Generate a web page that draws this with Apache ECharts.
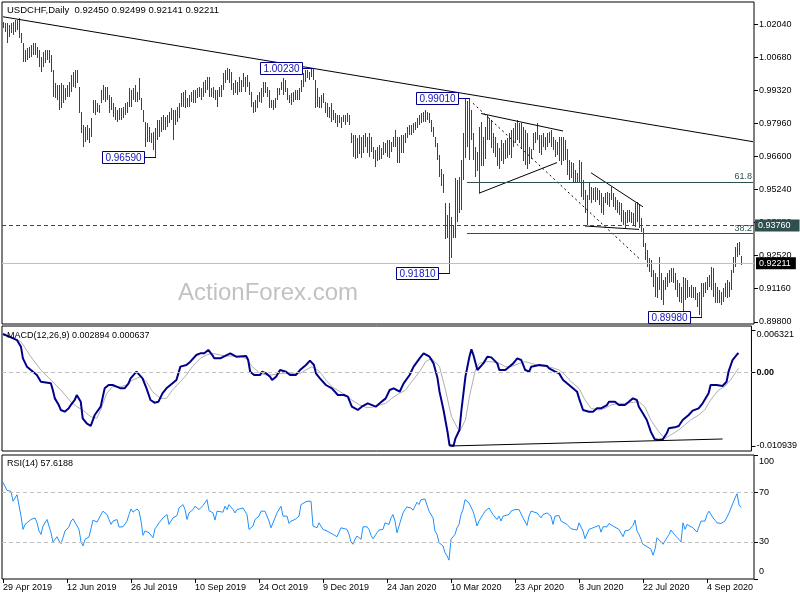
<!DOCTYPE html>
<html><head><meta charset="utf-8">
<script src="https://cdn.jsdelivr.net/npm/echarts@6/dist/echarts.min.js"></script>
<style>html,body{margin:0;padding:0;background:#fff}#c{width:800px;height:600px}</style>
</head><body><div id="c"></div>
<script>
// ---- Daily bars: highs / lows (USDCHF, 29 Apr 2019 .. 29 Sep 2020) ----
const highs = [
1.0215,1.0208,1.0211,1.0201,1.0208,1.0215,1.0222,1.0222,1.0229,1.0167,
1.0126,1.0098,1.0105,1.0112,1.0119,1.0126,1.0126,1.0112,1.0098,1.0071,
1.0091,1.0098,1.0098,1.0098,1.0078,1.0016,0.9961,0.9954,0.9954,0.9961,
0.9954,0.9940,0.9954,0.9968,0.9995,1.0009,1.0016,1.0016,0.9947,0.9844,
0.9790,0.9783,0.9790,0.9776,0.9817,0.9893,0.9893,0.9879,0.9872,0.9934,
0.9954,0.9947,0.9947,0.9913,0.9906,0.9879,0.9865,0.9851,0.9858,0.9858,
0.9865,0.9879,0.9886,0.9940,0.9934,0.9940,0.9954,0.9927,0.9982,0.9900,
0.9851,0.9803,0.9796,0.9783,0.9755,0.9762,0.9776,0.9810,0.9810,0.9824,
0.9831,0.9824,0.9831,0.9844,0.9858,0.9851,0.9851,0.9865,0.9879,0.9920,
0.9927,0.9934,0.9900,0.9913,0.9927,0.9934,0.9934,0.9940,0.9947,0.9940,
0.9968,0.9975,0.9989,0.9989,0.9940,0.9947,0.9934,0.9934,0.9947,0.9954,
1.0002,1.0015,1.0025,1.0020,1.0009,0.9961,0.9975,0.9968,0.9989,0.9975,
1.0002,0.9989,0.9995,0.9968,0.9927,0.9886,0.9893,0.9913,0.9927,0.9940,
0.9968,0.9968,0.9947,0.9934,0.9893,0.9893,0.9900,0.9940,0.9940,0.9968,
0.9982,0.9975,0.9940,0.9913,0.9920,0.9927,0.9934,0.9934,0.9940,0.9975,
1.0002,1.0016,1.0018,1.0009,1.0020,1.0023,0.9975,0.9940,0.9906,0.9913,
0.9920,0.9886,0.9879,0.9865,0.9879,0.9851,0.9838,0.9831,0.9831,0.9824,
0.9831,0.9831,0.9838,0.9831,0.9755,0.9749,0.9749,0.9735,0.9749,0.9742,
0.9749,0.9755,0.9742,0.9755,0.9742,0.9700,0.9687,0.9700,0.9707,0.9694,
0.9721,0.9714,0.9728,0.9728,0.9721,0.9742,0.9769,0.9742,0.9742,0.9749,
0.9749,0.9755,0.9783,0.9790,0.9790,0.9796,0.9803,0.9817,0.9831,0.9838,
0.9844,0.9851,0.9844,0.9838,0.9810,0.9783,0.9742,0.9714,0.9667,0.9610,
0.9590,0.9470,0.9420,0.9468,0.9413,0.9378,0.9570,0.9564,0.9577,0.9646,
0.9755,0.9900,0.9890,0.9901,0.9851,0.9755,0.9700,0.9680,0.9783,0.9804,
0.9742,0.9783,0.9831,0.9817,0.9810,0.9755,0.9742,0.9714,0.9694,0.9728,
0.9714,0.9728,0.9735,0.9755,0.9769,0.9776,0.9796,0.9810,0.9796,0.9796,
0.9783,0.9769,0.9755,0.9700,0.9690,0.9755,0.9762,0.9796,0.9749,0.9749,
0.9755,0.9742,0.9755,0.9762,0.9769,0.9742,0.9728,0.9721,0.9742,0.9742,
0.9742,0.9728,0.9690,0.9646,0.9639,0.9632,0.9605,0.9591,0.9646,0.9639,
0.9564,0.9522,0.9502,0.9557,0.9536,0.9529,0.9536,0.9529,0.9522,0.9509,
0.9495,0.9509,0.9516,0.9509,0.9536,0.9509,0.9495,0.9481,0.9474,0.9468,
0.9440,0.9433,0.9440,0.9440,0.9433,0.9426,0.9468,0.9474,0.9461,0.9406,
0.9365,0.9303,0.9275,0.9241,0.9234,0.9193,0.9179,0.9166,0.9248,0.9179,
0.9152,0.9166,0.9179,0.9193,0.9200,0.9200,0.9179,0.9152,0.9138,0.9125,
0.9166,0.9159,0.9152,0.9125,0.9131,0.9125,0.9125,0.9097,0.9104,0.9138,
0.9138,0.9145,0.9166,0.9173,0.9207,0.9200,0.9138,0.9125,0.9111,0.9104,
0.9118,0.9138,0.9152,0.9145,0.9193,0.9248,0.9289,0.9303,0.9310,0.92499
];
const lows = [
1.0187,1.0174,1.0126,1.0153,1.0167,1.0160,1.0174,1.0181,1.0146,1.0126,
1.0050,1.0050,1.0057,1.0064,1.0071,1.0078,1.0078,1.0064,1.0030,1.0009,
1.0030,1.0043,1.0057,1.0043,1.0009,0.9906,0.9900,0.9893,0.9851,0.9858,
0.9879,0.9893,0.9906,0.9906,0.9927,0.9947,0.9940,0.9961,0.9838,0.9755,
0.9700,0.9721,0.9728,0.9714,0.9742,0.9838,0.9831,0.9844,0.9838,0.9879,
0.9893,0.9886,0.9893,0.9838,0.9851,0.9824,0.9810,0.9803,0.9810,0.9810,
0.9817,0.9831,0.9838,0.9865,0.9865,0.9893,0.9886,0.9886,0.9893,0.9851,
0.9803,0.9700,0.9721,0.9721,0.9714,0.9687,0.9659,0.9728,0.9742,0.9762,
0.9769,0.9769,0.9783,0.9796,0.9810,0.9728,0.9790,0.9803,0.9817,0.9865,
0.9865,0.9858,0.9865,0.9865,0.9886,0.9879,0.9879,0.9900,0.9906,0.9893,
0.9906,0.9920,0.9934,0.9906,0.9906,0.9900,0.9893,0.9865,0.9906,0.9906,
0.9934,0.9961,0.9975,0.9961,0.9934,0.9913,0.9920,0.9913,0.9927,0.9927,
0.9947,0.9927,0.9947,0.9913,0.9865,0.9838,0.9844,0.9858,0.9886,0.9879,
0.9906,0.9920,0.9906,0.9858,0.9858,0.9851,0.9858,0.9893,0.9913,0.9934,
0.9913,0.9927,0.9893,0.9879,0.9872,0.9886,0.9893,0.9893,0.9893,0.9927,
0.9947,0.9968,0.9982,0.9975,0.9989,0.9975,0.9858,0.9865,0.9858,0.9858,
0.9879,0.9838,0.9824,0.9817,0.9803,0.9810,0.9796,0.9783,0.9796,0.9776,
0.9803,0.9790,0.9803,0.9790,0.9714,0.9659,0.9650,0.9653,0.9670,0.9653,
0.9673,0.9700,0.9673,0.9660,0.9680,0.9650,0.9618,0.9640,0.9646,0.9650,
0.9666,0.9673,0.9660,0.9653,0.9680,0.9700,0.9700,0.9632,0.9632,0.9673,
0.9673,0.9714,0.9735,0.9749,0.9749,0.9755,0.9769,0.9776,0.9790,0.9796,
0.9803,0.9803,0.9810,0.9796,0.9762,0.9742,0.9700,0.9646,0.9577,0.9540,
0.9510,0.9320,0.9325,0.9181,0.9241,0.9324,0.9324,0.9392,0.9426,0.9440,
0.9564,0.9653,0.9700,0.9646,0.9728,0.9646,0.9577,0.9600,0.9510,0.9620,
0.9620,0.9650,0.9728,0.9728,0.9694,0.9673,0.9659,0.9620,0.9610,0.9640,
0.9630,0.9650,0.9655,0.9665,0.9655,0.9700,0.9714,0.9728,0.9714,0.9690,
0.9640,0.9625,0.9610,0.9630,0.9650,0.9687,0.9714,0.9728,0.9673,0.9666,
0.9700,0.9687,0.9700,0.9714,0.9700,0.9687,0.9659,0.9666,0.9640,0.9625,
0.9640,0.9646,0.9584,0.9564,0.9570,0.9557,0.9550,0.9550,0.9550,0.9495,
0.9481,0.9426,0.9378,0.9481,0.9468,0.9481,0.9474,0.9481,0.9461,0.9426,
0.9420,0.9468,0.9461,0.9454,0.9481,0.9454,0.9440,0.9426,0.9420,0.9392,
0.9378,0.9365,0.9385,0.9392,0.9385,0.9378,0.9372,0.9392,0.9365,0.9351,
0.9289,0.9234,0.9207,0.9186,0.9166,0.9125,0.9083,0.9077,0.9111,0.9070,
0.9049,0.9111,0.9125,0.9138,0.9145,0.9138,0.9111,0.9083,0.9063,0.9056,
0.9015,0.9070,0.9077,0.9083,0.9077,0.9077,0.9070,0.9042,0.9008,0.8998,
0.9083,0.9097,0.9111,0.9125,0.9111,0.9083,0.9056,0.9056,0.9056,0.9049,
0.9063,0.9083,0.9077,0.9083,0.9111,0.9179,0.9207,0.9248,0.9255,0.92141
];
const lastBar = { open: 0.92450, high: 0.92499, low: 0.92141, close: 0.92211 };

// ---- Axis tick labels ----
const priceTicks = [1.0204, 1.0068, 0.9932, 0.9796, 0.9660, 0.9524, 0.9388, 0.9252, 0.9116, 0.8980];
const macdTicks = [0.006321, 0, -0.010939];
const rsiTicks = [100, 70, 30, 0];
const holidays = ['2019-12-25', '2020-01-01'];

// ---- Annotations ----
const swingLabels = [[76, 0.9659], [155, 1.0023], [233, 0.9901], [223, 0.9181], [349, 0.8998]];
const resistanceLevel = 0.9376;
const fibLevels = [[61.8, 0.9556], [38.2, 0.9343]];
const fibStart = 232;
const longTrend = [[0, 1.0235], [375, 0.9721]];
const triangleUpper = [[239, 0.9837], [280, 0.9765]];
const triangleLower = [[238, 0.9509], [277, 0.9635]];
const flagUpper = [[294, 0.9593], [320, 0.9453]];
const flagLower = [[291, 0.9374], [318, 0.9360]];
const channelDashed = [[235, 0.9879], [318, 0.9241]];
const macdTrend = [[224, -0.010938], [361, -0.009896]];

// ---- MACD(12,26,9): [bar index, value] ----
const macdLine = [[0,0.00573],[4,0.00523],[7,0.00483],[9,0.00384],[10,0.00211],[12,0.00087],[14,0.00037],[17,-0.00037],[19,-0.00137],[20,-0.00161],[24,-0.00161],[25,-0.00261],[26,-0.00385],[28,-0.00484],[29,-0.00558],[31,-0.00583],[33,-0.00533],[34,-0.00484],[36,-0.00409],[37,-0.00335],[39,-0.00434],[40,-0.00682],[42,-0.00757],[43,-0.00781],[44,-0.00796],[46,-0.00633],[49,-0.00509],[51,-0.00236],[53,-0.00186],[55,-0.00186],[57,-0.00211],[59,-0.00236],[61,-0.00236],[63,-0.00161],[64,-0.00087],[67,0.00012],[68,0.00037],[70,-0.00087],[72,-0.00236],[74,-0.00409],[76,-0.00449],[78,-0.00434],[80,-0.0031],[82,-0.00236],[84,-0.00186],[87,-0.00112],[89,0.00087],[92,0.00111],[94,0.00161],[97,0.0026],[99,0.00285],[101,0.00285],[103,0.00335],[105,0.0026],[106,0.00211],[109,0.00211],[114,0.00285],[117,0.00235],[122,0.00245],[123,0.00186],[124,0.00012],[126,-0.00037],[129,-0.00037],[130,0.00012],[132,-0.00013],[134,-0.00062],[135,-0.00112],[137,-0.00062],[139,0.00037],[142,0.00012],[144,-0.00037],[147,-0.00037],[149,0.00037],[152,0.00111],[154,0.00176],[156,0.00111],[157,-0.00013],[159,-0.00087],[162,-0.00186],[165,-0.00236],[168,-0.00335],[171,-0.00335],[173,-0.0036],[175,-0.00509],[178,-0.00558],[180,-0.00509],[183,-0.00459],[184,-0.00484],[187,-0.00509],[189,-0.00459],[192,-0.00385],[194,-0.00261],[196,-0.00236],[199,-0.00286],[201,-0.00161],[204,-0.00037],[206,0.00087],[209,0.00211],[211,0.00285],[214,0.00235],[216,0.00136],[218,-0.00087],[219,-0.00285],[221,-0.00558],[223,-0.00881],[224,-0.01079],[226,-0.010939],[227,-0.0098],[229,-0.00856],[230,-0.00558],[232,-0.00062],[234,0.00235],[235,0.00345],[236,0.0026],[238,0.00037],[239,0.00012],[241,0.00136],[243,0.00235],[245,0.00225],[248,0.00136],[249,0.00037],[252,0.00037],[254,0.00087],[256,0.00136],[258,0.00211],[260,0.00186],[262,0.00037],[264,0.00012],[265,0.00087],[269,0.00111],[273,0.00096],[274,0.00062],[277,0.00012],[279,-0.00013],[281,-0.00112],[284,-0.00186],[285,-0.00211],[288,-0.00285],[289,-0.00385],[291,-0.00558],[294,-0.00583],[296,-0.00583],[298,-0.00533],[300,-0.00533],[303,-0.00484],[304,-0.00434],[307,-0.00434],[309,-0.00484],[312,-0.00484],[314,-0.00434],[316,-0.00385],[318,-0.00409],[319,-0.00509],[321,-0.00608],[323,-0.00707],[325,-0.00881],[327,-0.00995],[329,-0.01005],[331,-0.00995],[333,-0.00905],[334,-0.00831],[337,-0.00816],[339,-0.00796],[341,-0.00707],[344,-0.00633],[346,-0.00568],[349,-0.00533],[351,-0.00459],[354,-0.0031],[355,-0.00186],[358,-0.00186],[361,-0.00201],[363,-0.00137],[364,0.00012],[366,0.00186],[368,0.0026],[369,0.002894]];
const signalLine = [[0,0.00558],[4,0.00533],[9,0.00459],[14,0.00235],[19,0.00037],[24,-0.00112],[29,-0.00261],[34,-0.00434],[37,-0.00509],[40,-0.00558],[44,-0.00657],[47,-0.00682],[49,-0.00558],[52,-0.0031],[55,-0.00211],[59,-0.00211],[62,-0.00186],[65,-0.00112],[69,-0.00062],[72,-0.00137],[75,-0.00285],[79,-0.00385],[82,-0.00385],[85,-0.00261],[89,-0.00137],[92,-0.00037],[95,0.00087],[99,0.00211],[102,0.0026],[105,0.00285],[109,0.0026],[112,0.00245],[115,0.00245],[119,0.00235],[122,0.00211],[125,0.00087],[129,-0.00013],[132,-0.00037],[135,-0.00037],[139,-0.00013],[142,-0.00013],[145,-0.00013],[149,-0.00013],[152,0.00037],[155,0.00087],[159,0.00012],[162,-0.00112],[165,-0.00211],[169,-0.00285],[172,-0.00335],[175,-0.00409],[179,-0.00484],[182,-0.00519],[185,-0.00519],[189,-0.00484],[192,-0.00459],[195,-0.00385],[199,-0.0031],[202,-0.00261],[205,-0.00137],[209,0.00012],[212,0.00161],[215,0.00211],[219,0.00087],[222,-0.00261],[225,-0.00657],[229,-0.00881],[230,-0.00905],[232,-0.00707],[234,-0.0036],[237,0.00037],[239,0.00136],[242,0.00161],[245,0.00161],[249,0.00136],[252,0.00087],[255,0.00087],[259,0.00136],[262,0.00161],[265,0.00136],[270,0.00096],[275,0.00077],[279,0.00037],[282,-0.00037],[285,-0.00137],[289,-0.00236],[292,-0.00409],[295,-0.00533],[299,-0.00558],[302,-0.00533],[305,-0.00484],[309,-0.00459],[312,-0.00459],[315,-0.00449],[319,-0.00434],[322,-0.00509],[325,-0.00707],[329,-0.00881],[332,-0.0098],[335,-0.0093],[339,-0.00856],[342,-0.00781],[345,-0.00707],[349,-0.00633],[352,-0.00558],[355,-0.00409],[359,-0.00261],[362,-0.00211],[365,-0.00112],[369,0.000637]];

// ---- RSI(14): [bar index, value] ----
const rsiLine = [[0,78],[2,71.5],[3,70],[4,70.7],[5,62.7],[6,65.3],[7,68],[8,66.7],[9,50.7],[10,40],[11,44],[12,45.3],[14,48],[15,46.7],[16,49.3],[17,45.3],[18,38.7],[19,36],[20,42.7],[22,48],[23,47.5],[24,37.3],[25,29.9],[27,34.1],[28,30.7],[29,28.5],[30,33.3],[31,38.7],[33,42.1],[34,46.7],[35,48.5],[36,49.3],[38,40],[39,29.9],[40,26.7],[41,32],[43,33.9],[44,34.1],[45,47.5],[47,45.9],[48,46.7],[49,52],[50,54.7],[52,52],[53,48],[54,44],[55,46.7],[57,48],[58,41.9],[59,41.9],[60,42.1],[62,46.7],[63,52],[64,56.5],[65,53.9],[67,56.5],[68,54.7],[69,46.7],[70,35.2],[71,38.7],[73,37.3],[74,36],[75,33.3],[76,40.5],[77,42.7],[78,45.3],[80,49.3],[81,48],[82,52],[83,44],[85,49.3],[86,50.7],[87,51.2],[88,57.3],[90,60],[91,56],[92,48],[93,53.3],[95,56],[96,58.7],[97,59.2],[98,56],[100,59.2],[101,58.7],[102,64],[103,55.2],[105,53.3],[106,47.5],[107,54.7],[108,56],[110,53.9],[111,58.7],[112,56],[113,60],[115,56],[116,53.3],[117,56],[118,56],[120,57.3],[121,58.7],[122,52],[123,40],[125,42.7],[126,48],[128,50.7],[129,54.7],[131,54.7],[133,46.7],[134,41.3],[135,45.3],[137,53.3],[138,54.7],[139,58.7],[140,50.7],[142,50.7],[143,44.8],[144,46.7],[146,48],[148,50.7],[149,60],[150,60],[152,62.7],[153,61.3],[154,62.7],[155,42.7],[157,41.3],[158,45.3],[159,46.7],[160,40],[162,38.7],[163,40],[165,36],[167,34.1],[168,33.3],[169,41.3],[170,40],[172,40],[173,36],[174,29.9],[175,28],[176,32],[177,34.7],[179,32],[180,42.1],[182,42.1],[183,40],[184,35.2],[185,32.5],[187,37.3],[188,39.5],[190,40],[191,45.3],[193,44],[194,49.3],[195,52],[196,46.7],[197,37.3],[198,42.7],[200,53.3],[201,56],[202,58.1],[204,57.3],[205,55.5],[206,58.7],[207,61.9],[208,60],[209,64],[211,64.5],[212,65.3],[213,54.7],[214,53.3],[215,49.3],[216,38.7],[217,36],[218,29.3],[219,29.3],[220,26.7],[221,21.3],[222,18.7],[223,15.2],[224,32],[225,32.5],[226,36],[227,41.3],[228,44],[229,52],[230,56],[231,64],[232,64],[233,61.3],[235,54.7],[236,49.3],[237,42.7],[238,46.7],[239,49.3],[240,52],[241,54.7],[243,57.3],[244,54.7],[245,52],[246,50.7],[247,48],[248,50.7],[249,46.7],[250,50.7],[251,52],[253,52],[254,54.7],[255,55.5],[256,56],[257,54.7],[258,56],[259,54.7],[260,49.3],[262,43.2],[263,50.7],[264,54.7],[265,53.3],[267,53.3],[268,52],[269,49.3],[270,52],[272,53.3],[273,52],[274,50.7],[275,44],[276,50.7],[277,51.2],[278,51.2],[279,46.7],[280,45.3],[282,44],[283,42.7],[284,40.5],[285,42.1],[287,39.5],[288,45.3],[289,44],[290,38.7],[291,32.5],[292,32],[293,40],[294,40.5],[295,41.3],[296,42.1],[298,43.2],[299,37.8],[300,42.1],[302,42.1],[303,44.8],[304,45.9],[305,42.7],[306,41.3],[308,40],[309,38.7],[310,34.1],[311,38.7],[313,39.5],[314,38.7],[315,43.2],[316,47.5],[317,38.7],[318,36],[319,32],[320,28],[322,26.1],[323,24.5],[324,24],[325,19.2],[326,24],[327,33.3],[329,29.9],[330,28],[331,30.7],[333,36],[334,39.5],[335,40],[336,35.2],[337,34.1],[338,32],[339,29.9],[340,45.3],[341,40],[342,44],[343,43.2],[345,41.3],[346,42.1],[347,37.8],[348,37.8],[349,46.7],[350,47.5],[351,46.7],[352,52],[353,54.7],[355,49.3],[356,47.5],[357,45.3],[358,44],[359,44.8],[361,46.7],[362,47.5],[363,53.3],[365,61.3],[366,65.3],[367,68.8],[368,60],[369,57.6188]];

// ---- Build trading-day categories (weekdays, 6 extra for chart shift) ----
const monthNames = ['Jan','Feb','Mar','Apr','May','Jun','Jul','Aug','Sep','Oct','Nov','Dec'];
const cats = [];
let d = new Date(Date.UTC(2019, 3, 29));
while (cats.length < highs.length + 6) {
  const wd = d.getUTCDay();
  const iso = d.toISOString().slice(0, 10);
  if (wd !== 0 && wd !== 6 && holidays.indexOf(iso) < 0) {
    cats.push(d.getUTCDate() + ' ' + monthNames[d.getUTCMonth()] + ' ' + d.getUTCFullYear());
  }
  d = new Date(d.getTime() + 86400000);
}
const labelEvery = 32;
const showTick = (i) => i % labelEvery === 0 && i < highs.length;

const FONT = '"Liberation Sans", Arial, sans-serif';
const BAR_COLOR = '#1F4A68';
const DARK = '#2F4F4F';

const chart = echarts.init(document.getElementById('c'), null, { renderer: 'canvas' });

function lineSeries(data, color, type, extra) {
  return Object.assign({
    type: 'line', xAxisIndex: 0, yAxisIndex: 0, data: data, symbol: 'none', silent: true,
    lineStyle: { color: color, width: 1, type: type || 'solid' }, animation: false, z: 3
  }, extra || {});
}

const fibMarks = fibLevels.map(f => [
  { coord: [fibStart, f[1]], lineStyle: { color: DARK, width: 1, type: 'solid' },
    label: { show: true, position: 'insideEndTop', formatter: String(f[0]), color: DARK, fontSize: 9, fontFamily: FONT, distance: 1 } },
  { coord: [cats.length - 1, f[1]] }
]);

const option = {
  animation: false,
  textStyle: { fontFamily: FONT },
  grid: [
    { left: 2, right: 46, top: 2, height: 322, show: true, borderColor: '#000', borderWidth: 1, backgroundColor: 'transparent' },
    { left: 2, right: 46, top: 326, height: 125, show: true, borderColor: '#000', borderWidth: 1 },
    { left: 2, right: 46, top: 455, height: 124, show: true, borderColor: '#000', borderWidth: 1 }
  ],
  xAxis: [0, 1, 2].map(g => ({
    type: 'category', gridIndex: g, data: cats, boundaryGap: true,
    axisLine: { show: false },
    axisTick: { show: g === 2, alignWithLabel: true, interval: showTick, length: 4, lineStyle: { color: '#000' } },
    axisLabel: { show: g === 2, interval: showTick, align: 'left', margin: 4, fontSize: 9, color: '#000', fontFamily: FONT },
    splitLine: { show: false }
  })),
  yAxis: [
    { type: 'value', gridIndex: 0, position: 'right', min: 0.89708, max: 1.02958,
      splitLine: { show: false }, axisLine: { show: false },
      axisTick: { show: true, customValues: priceTicks, length: 4, lineStyle: { color: '#000' } },
      axisLabel: { customValues: priceTicks, formatter: v => v.toFixed(5), fontSize: 9, color: '#000', margin: 5, fontFamily: FONT } },
    { type: 'value', gridIndex: 1, position: 'right', min: -0.011683, max: 0.006921,
      splitLine: { show: false }, axisLine: { show: false },
      axisTick: { show: true, customValues: macdTicks, length: 4, lineStyle: { color: '#000' } },
      axisLabel: { customValues: macdTicks, margin: 5, fontSize: 9, color: '#000', fontFamily: FONT,
        formatter: v => v === 0 ? '{z|0.00}' : (v > 0 ? '{t|' + v.toFixed(6) + '}' : v.toFixed(6)),
        rich: { t: { padding: [8, 0, 0, 0], fontSize: 9, color: '#000', fontFamily: FONT },
                z: { fontSize: 9, fontWeight: 'bold', color: '#000', fontFamily: FONT } } } },
    { type: 'value', gridIndex: 2, position: 'right', min: 0, max: 100,
      splitLine: { show: false }, axisLine: { show: false },
      axisTick: { show: true, customValues: rsiTicks, length: 4, lineStyle: { color: '#000' } },
      axisLabel: { customValues: rsiTicks, margin: 5, fontSize: 9, color: '#000', fontFamily: FONT,
        formatter: v => v === 100 ? '{t|100}' : (v === 0 ? '{b|0}' : String(v)),
        rich: { t: { padding: [13, 0, 0, 0], fontSize: 9, color: '#000', fontFamily: FONT },
                b: { padding: [0, 0, 14, 0], fontSize: 9, color: '#000', fontFamily: FONT } } } }
  ],
  graphic: [
    { type: 'text', x: 178, y: 293, z: -1, silent: true,
      style: { text: 'ActionForex.com', font: '24px ' + FONT, fill: '#C2C2C2', verticalAlign: 'middle' } },
    { type: 'text', x: 7, y: 10, z: 10, silent: true,
      style: { text: 'USDCHF,Daily  ' + [lastBar.open, lastBar.high, lastBar.low, lastBar.close].map(v => v.toFixed(5)).join(' '),
               font: '9.5px ' + FONT, fill: '#000', verticalAlign: 'middle' } },
    { type: 'text', x: 7, y: 336, z: 10, silent: true,
      style: { text: 'MACD(12,26,9) ' + macdLine[macdLine.length - 1][1].toFixed(6) + ' ' + signalLine[signalLine.length - 1][1].toFixed(6),
               font: '9px ' + FONT, fill: '#000', verticalAlign: 'middle' } },
    { type: 'text', x: 7, y: 464, z: 10, silent: true,
      style: { text: 'RSI(14) ' + rsiLine[rsiLine.length - 1][1].toFixed(4),
               font: '9px ' + FONT, fill: '#000', verticalAlign: 'middle' } }
  ],
  series: [
    // price bars (high-low)
    { type: 'custom', name: 'USDCHF', xAxisIndex: 0, yAxisIndex: 0, silent: true, z: 2,
      data: highs.map((h, i) => [i, h, lows[i]]),
      encode: { x: 0, y: [1, 2] },
      renderItem: (params, api) => {
        const a = api.coord([api.value(0), api.value(1)]);
        const b = api.coord([api.value(0), api.value(2)]);
        const top = Math.round(a[1]), bot = Math.round(b[1]);
        return { type: 'rect', shape: { x: Math.round(a[0]), y: top, width: 1, height: Math.max(1, bot - top) },
                 style: { fill: BAR_COLOR } };
      } },
    lineSeries(longTrend, '#000', 'solid', {
      markLine: { symbol: ['none', 'none'], silent: true, animation: false, precision: 6,
        data: [
          { yAxis: resistanceLevel, lineStyle: { color: DARK, width: 1, type: [4, 3] },
            label: { show: true, position: 'end', distance: 1, formatter: resistanceLevel.toFixed(5), color: '#fff',
                     backgroundColor: DARK, padding: [2, 9, 1, 3], fontSize: 9, fontFamily: FONT } },
          { yAxis: lastBar.close, lineStyle: { color: '#C0C0C0', width: 1, type: 'solid' },
            label: { show: true, position: 'end', distance: 2, formatter: lastBar.close.toFixed(5), color: '#fff',
                     backgroundColor: '#000', padding: [2, 5, 1, 3], fontSize: 9, fontFamily: FONT } }
        ].concat(fibMarks) } }),
    lineSeries(triangleUpper, '#000'),
    lineSeries(triangleLower, '#000'),
    lineSeries(flagUpper, '#000'),
    lineSeries(flagLower, '#000'),
    lineSeries(channelDashed, '#000', [2, 3]),
    // swing price labels
    { type: 'custom', xAxisIndex: 0, yAxisIndex: 0, data: swingLabels, encode: { x: 0, y: 1 }, silent: true, z: 6, clip: false,
      renderItem: (params, api) => {
        const pt = api.coord([api.value(0), api.value(1)]);
        const x = Math.round(pt[0]), y = Math.round(pt[1]);
        const w = 42, h = 12, gap = 11, left = x - gap - w;
        return { type: 'group', children: [
          { type: 'line', shape: { x1: x - gap, y1: y + 0.5, x2: x + 1, y2: y + 0.5 }, style: { stroke: '#00008B', lineWidth: 1 } },
          { type: 'rect', shape: { x: left + 0.5, y: y - 6 + 0.5, width: w, height: h }, style: { fill: '#fff', stroke: '#00008B', lineWidth: 1 } },
          { type: 'text', style: { text: api.value(1).toFixed(5), x: left + w / 2 + 0.5, y: y + 1, align: 'center', verticalAlign: 'middle',
                                   font: '10px ' + FONT, fill: '#1414B4' } }
        ] };
      } },
    // MACD
    { type: 'line', xAxisIndex: 1, yAxisIndex: 1, data: signalLine, symbol: 'none', silent: true,
      lineStyle: { color: '#AFAFAF', width: 1 }, z: 2,
      markLine: { symbol: ['none', 'none'], silent: true, animation: false, precision: 6, label: { show: false },
        data: [ { yAxis: 0, lineStyle: { color: '#C0C0C0', width: 1, type: [4, 3] } },
                [ { coord: macdTrend[0], lineStyle: { color: '#000', width: 1, type: 'solid' } }, { coord: macdTrend[1] } ] ] } },
    { type: 'line', xAxisIndex: 1, yAxisIndex: 1, data: macdLine, symbol: 'none', silent: true,
      lineStyle: { color: '#00008B', width: 2 }, z: 3 },
    // RSI
    { type: 'line', xAxisIndex: 2, yAxisIndex: 2, data: rsiLine, symbol: 'none', silent: true,
      lineStyle: { color: '#1E90FF', width: 1 }, z: 3,
      markLine: { symbol: ['none', 'none'], silent: true, animation: false, label: { show: false },
        data: [ { yAxis: 70, lineStyle: { color: '#C0C0C0', width: 1, type: [4, 3] } },
                { yAxis: 30, lineStyle: { color: '#C0C0C0', width: 1, type: [4, 3] } } ] } }
  ]
};
chart.setOption(option);
</script>
</body></html>
